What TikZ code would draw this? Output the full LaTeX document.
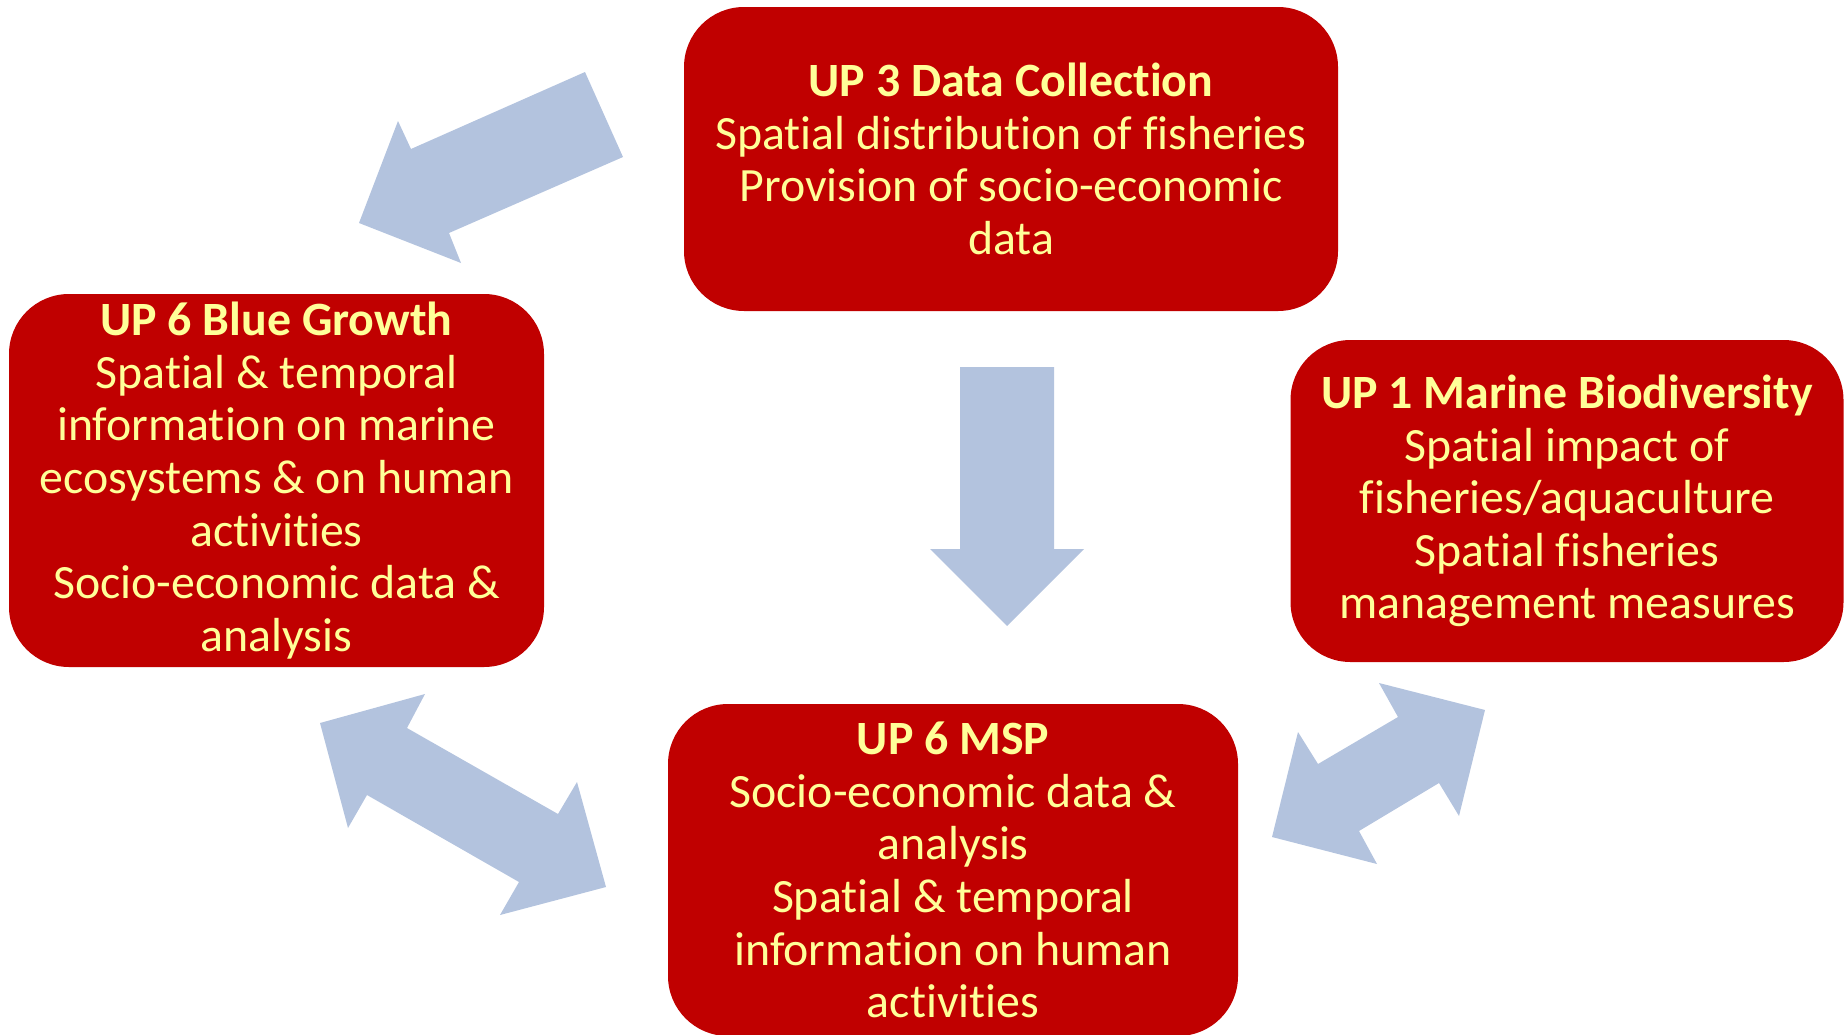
\documentclass[tikz,border=0pt]{standalone}
\usepackage{fontspec}
\setmainfont[Ligatures={NoCommon,NoContextual}]{Carlito}
\definecolor{boxred}{HTML}{C00000}
\definecolor{txtyellow}{HTML}{FFFF99}
\definecolor{arrowblue}{HTML}{B3C3DE}
\begin{document}
\begin{tikzpicture}[x=1pt,y=-1pt,
  box/.style={fill=boxred, draw=none, rounded corners=60pt, align=center,
    text=txtyellow, inner sep=0pt, font=\fontsize{47.8}{52.6}\selectfont},
  blockarrow/.style={fill=arrowblue, draw=none}]
\useasboundingbox (0,0) rectangle (1845,1034);
\clip (0,0) rectangle (1845,1034);

% boxes
\node[box, minimum width=654pt, minimum height=304pt] (up3) at (1011,159)
  {\textbf{UP 3 Data Collection}\\Spatial distribution of fisheries\\Provision of socio-economic\\data};
\node[box, minimum width=535pt, minimum height=373pt] (bg) at (276.5,480.5)
  {\textbf{UP 6 Blue Growth}\\Spatial \& temporal\\information on marine\\ecosystems \& on human\\activities\\Socio-economic data \&\\analysis};
\node[box, minimum width=553pt, minimum height=322pt] (up1) at (1567,501)
  {\textbf{UP 1 Marine Biodiversity}\\Spatial impact of\\fisheries/aquaculture\\Spatial fisheries\\management measures};
\node[box, minimum width=570pt, minimum height=332pt] (msp) at (953,870)
  {\textbf{UP 6 MSP}\\Socio-economic data \&\\analysis\\Spatial \& temporal\\information on human\\activities};

% block arrows
\fill[blockarrow] (585,72) -- (623,157) -- (449,233) -- (461,263) -- (359,223)
  -- (398,121) -- (411,149) -- cycle;
\fill[blockarrow] (960,367) -- (1054,367) -- (1054,549) -- (1084,549) -- (1007,626)
  -- (930,549) -- (960,549) -- cycle;
\fill[blockarrow] (320,723) -- (425,694) -- (407,728) -- (558,814) -- (577,782)
  -- (606,887) -- (500,915) -- (519,882) -- (367,795) -- (348,828) -- cycle;
\fill[blockarrow] (1379,683) -- (1485,710) -- (1459,816) -- (1439,783) -- (1359,831)
  -- (1377,864) -- (1272,837) -- (1298,732) -- (1318,764) -- (1398,717) -- cycle;
\end{tikzpicture}
\end{document}
